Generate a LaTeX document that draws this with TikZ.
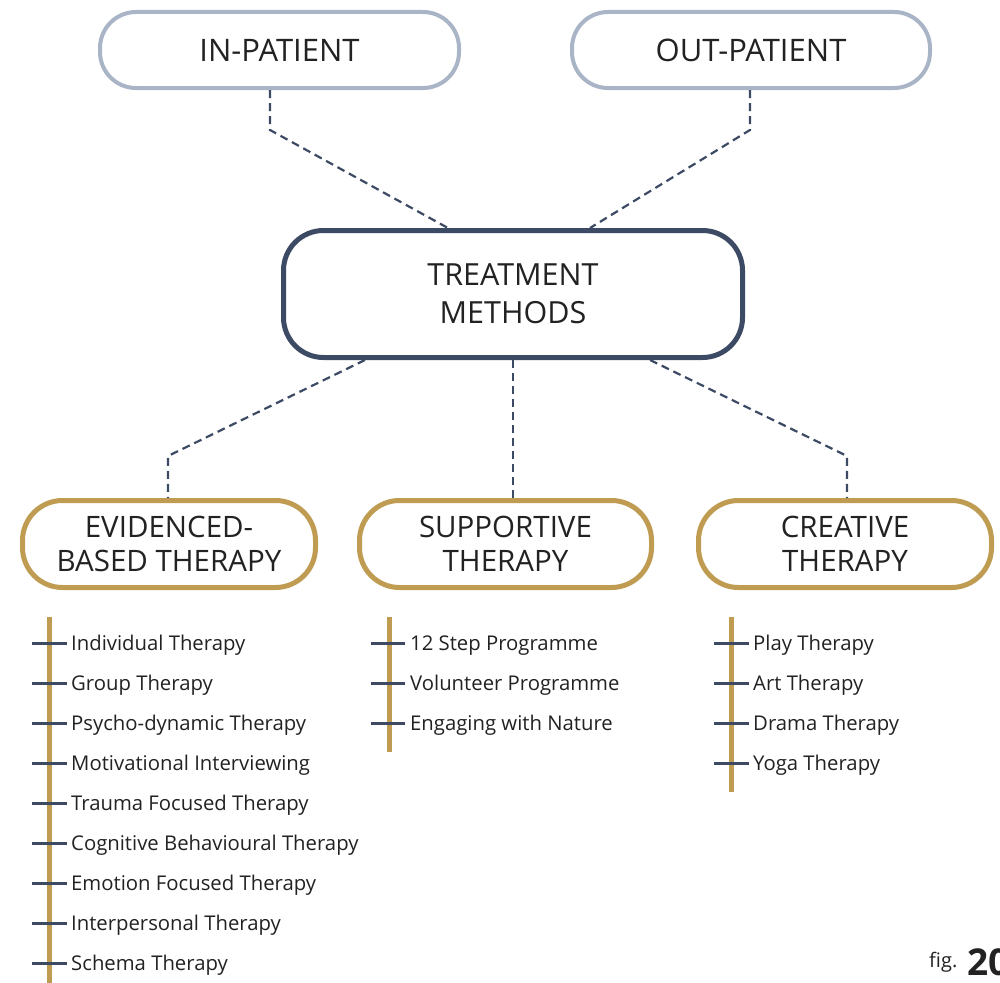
\documentclass[tikz,border=0pt]{standalone}
\usepackage{fontspec}
\setmainfont{Open Sans}
\definecolor{lightbd}{HTML}{A9B5C7}
\definecolor{navy}{HTML}{3C4A64}
\definecolor{gold}{HTML}{BF9C52}
\definecolor{txt}{HTML}{222222}
\tikzset{
  topbox/.style={draw=lightbd, line width=4pt, rounded corners=36pt, fill=white, text=txt,
    font=\fontsize{31}{38}\selectfont, align=center, inner sep=0pt},
  mainbox/.style={draw=navy, line width=5pt, rounded corners=40pt, fill=white, text=txt,
    font=\fontsize{30.5}{38}\selectfont, align=center, inner sep=0pt},
  catbox/.style={draw=gold, line width=5pt, rounded corners=40pt, fill=white, text=txt,
    font=\fontsize{29.5}{34}\selectfont, align=center, inner sep=0pt},
  conn/.style={draw=navy, line width=2.2pt, dash pattern=on 8pt off 5pt},
  goldbar/.style={draw=gold, line width=5pt},
  tickline/.style={draw=navy, line width=3pt},
  item/.style={anchor=base west, text=txt, font=\fontsize{20.3}{25}\selectfont, inner sep=0pt},
}
\begin{document}
\begin{tikzpicture}[x=1pt,y=-1pt]
\useasboundingbox[fill=white] (0,0) rectangle (1000,982);

\node[topbox, minimum width=359pt, minimum height=76pt] (inp) at (279.5,50) {IN-PATIENT};
\node[topbox, minimum width=358pt, minimum height=76pt] (outp) at (751,50) {OUT-PATIENT};
\node[mainbox, minimum width=459pt, minimum height=127pt] (tm) at (513,294) {TREATMENT\\METHODS};
\node[catbox, minimum width=293pt, minimum height=87pt] (evb) at (169,544) {EVIDENCED-\\BASED THERAPY};
\node[catbox, minimum width=292pt, minimum height=87pt] (sup) at (505.5,544) {SUPPORTIVE\\THERAPY};
\node[catbox, minimum width=293pt, minimum height=87pt] (cre) at (845,544) {CREATIVE\\THERAPY};

% connectors
\draw[conn] ([xshift=-9.5pt]inp.south) -- ++(0,40) -- ([xshift=-65pt]tm.north);
\draw[conn] ([xshift=-1pt]outp.south) -- ++(0,40) -- ([xshift=77pt]tm.north);
\draw[conn] ([xshift=-148pt]tm.south) -- ([xshift=-1pt]evb.north |- 0,456) -- ([xshift=-1pt]evb.north);
\draw[conn] (tm.south) -- (tm.south |- sup.north);
\draw[conn] ([xshift=137pt]tm.south) -- ([xshift=2pt]cre.north |- 0,456) -- ([xshift=2pt]cre.north);

% evidenced list
\draw[goldbar] (49,617) -- (49,984);
\foreach \t [count=\i from 0] in {Individual Therapy, Group Therapy, Psycho-dynamic Therapy,
  Motivational Interviewing, Trauma Focused Therapy, Cognitive Behavioural Therapy,
  Emotion Focused Therapy, Interpersonal Therapy, Schema Therapy} {
  \pgfmathsetmacro{\yy}{643+40*\i}
  \draw[tickline] (32,\yy) -- (67,\yy);
  \node[item] (e\i) at (71,\yy+7.5) {\t};
}

% supportive list
\draw[goldbar] (389,617) -- (389,752);
\foreach \t [count=\i from 0] in {12 Step Programme, Volunteer Programme, Engaging with Nature} {
  \pgfmathsetmacro{\yy}{643+40*\i}
  \draw[tickline] (371,\yy) -- (405,\yy);
  \node[item] (s\i) at (410,\yy+7.5) {\t};
}

% creative list
\draw[goldbar] (731,617) -- (731,792);
\foreach \t [count=\i from 0] in {Play Therapy, Art Therapy, Drama Therapy, Yoga Therapy} {
  \pgfmathsetmacro{\yy}{643+40*\i}
  \draw[tickline] (714,\yy) -- (749,\yy);
  \node[item] (c\i) at (753,\yy+7.5) {\t};
}

% figure label
\node[anchor=base west, inner sep=0pt, text=txt, font=\fontsize{20}{24}\selectfont] (fig) at (929,967) {fig.};
\node[anchor=base west, inner sep=0pt, text=txt, font=\fontsize{37}{40}\selectfont\bfseries] (fnum) at (967,975) {20};
\end{tikzpicture}
\end{document}
